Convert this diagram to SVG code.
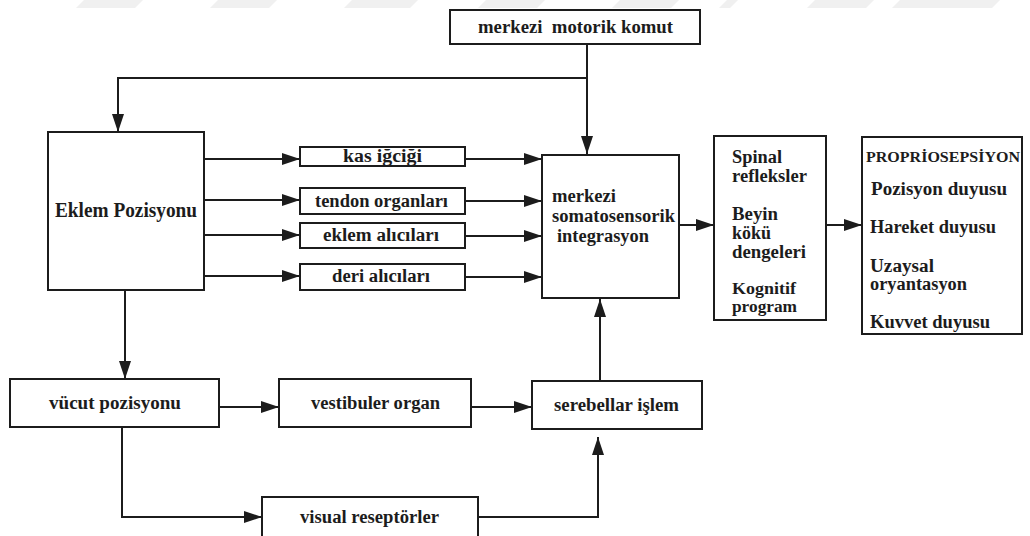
<svg xmlns="http://www.w3.org/2000/svg" width="1030" height="536" viewBox="0 0 1030 536">
<style>
.box{fill:#fff;stroke:#1c1c1c;stroke-width:2}
.ln{fill:none;stroke:#1c1c1c;stroke-width:2}
.t{font-family:"Liberation Serif","Times New Roman",serif;font-size:18px;font-weight:bold;fill:#1c1c1c}
.band{fill:#f0f0f0}
</style>
<defs>
<marker id="ah" markerUnits="userSpaceOnUse" markerWidth="19" markerHeight="13" refX="18" refY="6" orient="auto">
<path d="M0,0 L18,6 L0,12 z" fill="#1c1c1c"/>
</marker>
</defs>
<rect width="1030" height="536" fill="#fff"/>
<g id="band">
<path class="band" d="M84,0 H143 L135,8 H76 z"/>
<path class="band" d="M218,0 H277 L269,8 H210 z"/>
<path class="band" d="M352,0 H418 L410,8 H344 z"/>
<path class="band" d="M486,0 H545 L537,8 H478 z"/>
<path class="band" d="M620,0 H679 L671,8 H612 z"/>
<path class="band" d="M727,0 H738 L730,8 H719 z"/>
<path class="band" d="M815,0 H874 L866,8 H807 z"/>
<path class="band" d="M900,0 H1000 L992,8 H892 z"/>
</g>
<g id="connectors">
<path class="ln" d="M587,44 V154" marker-end="url(#ah)"/>
<path class="ln" d="M587,78 H118 V132" marker-end="url(#ah)"/>
<path class="ln" d="M204,159 H300" marker-end="url(#ah)"/>
<path class="ln" d="M204,200 H300" marker-end="url(#ah)"/>
<path class="ln" d="M204,235 H300" marker-end="url(#ah)"/>
<path class="ln" d="M204,276 H300" marker-end="url(#ah)"/>
<path class="ln" d="M465,159 H542" marker-end="url(#ah)"/>
<path class="ln" d="M465,201 H542" marker-end="url(#ah)"/>
<path class="ln" d="M465,236 H542" marker-end="url(#ah)"/>
<path class="ln" d="M465,277 H542" marker-end="url(#ah)"/>
<path class="ln" d="M679,225 H714" marker-end="url(#ah)"/>
<path class="ln" d="M826,225 H862" marker-end="url(#ah)"/>
<path class="ln" d="M125,290 V379" marker-end="url(#ah)"/>
<path class="ln" d="M219,407 H279" marker-end="url(#ah)"/>
<path class="ln" d="M471,407 H532" marker-end="url(#ah)"/>
<path class="ln" d="M600,381 V299" marker-end="url(#ah)"/>
<path class="ln" d="M122,427 V517 H262" marker-end="url(#ah)"/>
<path class="ln" d="M478,517 H598 V437" marker-end="url(#ah)"/>
</g>
<g id="motor">
<rect class="box" x="450" y="10" width="250" height="34"/>
<text class="t" x="478" y="33" textLength="195" lengthAdjust="spacingAndGlyphs" xml:space="preserve">merkezi  motorik komut</text>
</g>
<g id="eklem">
<rect class="box" x="48" y="132" width="156" height="158"/>
<text class="t" x="55" y="217" style="font-size:20px" textLength="142" lengthAdjust="spacingAndGlyphs">Eklem Pozisyonu</text>
</g>
<g id="kas">
<rect class="box" x="300" y="147" width="165" height="19"/>
<text class="t" x="343" y="162" textLength="79" lengthAdjust="spacingAndGlyphs">kas iğciği</text>
</g>
<g id="tendon">
<rect class="box" x="300" y="188" width="165" height="26"/>
<text class="t" x="315" y="207" textLength="133" lengthAdjust="spacingAndGlyphs">tendon organları</text>
</g>
<g id="eklemal">
<rect class="box" x="300" y="223" width="165" height="25"/>
<text class="t" x="323" y="241" textLength="116" lengthAdjust="spacingAndGlyphs">eklem alıcıları</text>
</g>
<g id="deri">
<rect class="box" x="300" y="264" width="165" height="26"/>
<text class="t" x="332" y="282" textLength="98" lengthAdjust="spacingAndGlyphs">deri alıcıları</text>
</g>
<g id="somato">
<rect class="box" x="542" y="155" width="137" height="143"/>
<text class="t" x="552" y="202" textLength="64" lengthAdjust="spacingAndGlyphs">merkezi</text>
<text class="t" x="552" y="222" textLength="123" lengthAdjust="spacingAndGlyphs">somatosensorik</text>
<text class="t" x="557" y="242" textLength="92" lengthAdjust="spacingAndGlyphs">integrasyon</text>
</g>
<g id="spinal">
<rect class="box" x="714" y="136" width="112" height="184"/>
<text class="t" x="732" y="163" textLength="50" lengthAdjust="spacingAndGlyphs">Spinal</text>
<text class="t" x="732" y="182" textLength="75" lengthAdjust="spacingAndGlyphs">refleksler</text>
<text class="t" x="732" y="220" textLength="46" lengthAdjust="spacingAndGlyphs">Beyin</text>
<text class="t" x="732" y="239" textLength="39" lengthAdjust="spacingAndGlyphs">kökü</text>
<text class="t" x="732" y="258" textLength="74" lengthAdjust="spacingAndGlyphs">dengeleri</text>
<text class="t" x="732" y="294" style="font-size:16px" textLength="64" lengthAdjust="spacingAndGlyphs">Kognitif</text>
<text class="t" x="732" y="312" style="font-size:16px" textLength="65" lengthAdjust="spacingAndGlyphs">program</text>
</g>
<g id="proprio">
<rect class="box" x="862" y="137" width="160" height="197"/>
<text class="t" x="866" y="162" style="font-size:14px" textLength="154" lengthAdjust="spacingAndGlyphs">PROPRİOSEPSİYON</text>
<text class="t" x="871" y="195" textLength="136" lengthAdjust="spacingAndGlyphs">Pozisyon duyusu</text>
<text class="t" x="870" y="233" textLength="126" lengthAdjust="spacingAndGlyphs">Hareket duyusu</text>
<text class="t" x="870" y="272" textLength="64" lengthAdjust="spacingAndGlyphs">Uzaysal</text>
<text class="t" x="870" y="290" textLength="97" lengthAdjust="spacingAndGlyphs">oryantasyon</text>
<text class="t" x="870" y="328" textLength="120" lengthAdjust="spacingAndGlyphs">Kuvvet duyusu</text>
</g>
<g id="vucut">
<rect class="box" x="10" y="379" width="209" height="48"/>
<text class="t" x="49" y="409" textLength="132" lengthAdjust="spacingAndGlyphs">vücut pozisyonu</text>
</g>
<g id="vestibuler">
<rect class="box" x="279" y="379" width="192" height="48"/>
<text class="t" x="311" y="409" textLength="129" lengthAdjust="spacingAndGlyphs">vestibuler organ</text>
</g>
<g id="serebellar">
<rect class="box" x="532" y="381" width="170" height="48"/>
<text class="t" x="554" y="411" textLength="125" lengthAdjust="spacingAndGlyphs">serebellar işlem</text>
</g>
<g id="visual">
<rect class="box" x="262" y="497" width="216" height="46"/>
<text class="t" x="300" y="523" textLength="139" lengthAdjust="spacingAndGlyphs">visual reseptörler</text>
</g>
</svg>
